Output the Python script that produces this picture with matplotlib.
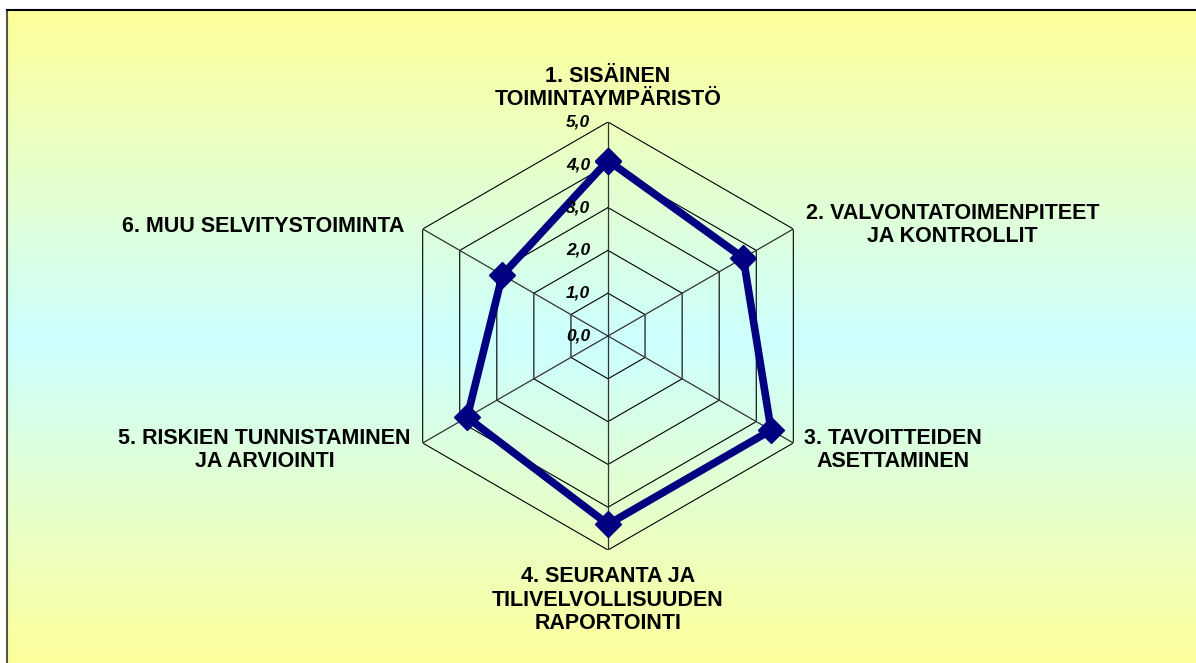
import numpy as np
import matplotlib
matplotlib.use("Agg")
import matplotlib.pyplot as plt
from matplotlib.colors import LinearSegmentedColormap

plt.rcParams["font.family"] = ["Liberation Sans", "DejaVu Sans"]

categories = [
    "1. SISÄINEN\nTOIMINTAYMPÄRISTÖ",
    "2. VALVONTATOIMENPITEET\nJA KONTROLLIT",
    "3. TAVOITTEIDEN\nASETTAMINEN",
    "4. SEURANTA JA\nTILIVELVOLLISUUDEN\nRAPORTOINTI",
    "5. RISKIEN TUNNISTAMINEN\nJA ARVIOINTI",
    "6. MUU SELVITYSTOIMINTA",
]
values = [4.1, 3.65, 4.4, 4.4, 3.8, 2.85]
levels = [0, 1, 2, 3, 4, 5]
level_labels = ["0,0", "1,0", "2,0", "3,0", "4,0", "5,0"]

# label offsets from the outer vertex, in pixels
label_offsets = [(0, 34), (159, 4), (100, -7), (0, -50), (-158, -7), (-159, 3)]

W, H = 1196, 663
fig = plt.figure(figsize=(W / 100, H / 100), dpi=100)
fig.patch.set_facecolor("white")

# gradient background with border on top/left (runs off the right/bottom edge)
bg = fig.add_axes([7 / W, -10 / H, 1 + 10 / W, (H) / H])
cmap = LinearSegmentedColormap.from_list(
    "bg", ["#FFFF99", "#CCFFFF", "#FFFF99"])
grad = np.linspace(0, 1, 256).reshape(-1, 1)
bg.imshow(grad, aspect="auto", cmap=cmap, extent=[0, 1, 0, 1], origin="upper")
bg.set_xticks([])
bg.set_yticks([])
for side in ["right", "bottom"]:
    bg.spines[side].set_visible(False)
bg.spines["top"].set_color("black")
bg.spines["top"].set_linewidth(1.5)
bg.spines["left"].set_color("#555544")
bg.spines["left"].set_linewidth(1.5)

# radar
cx, cy, R = 608, 336, 214
ax = fig.add_axes([(cx - R) / W, (H - cy - R) / H, 2 * R / W, 2 * R / H],
                  projection="polar")
ax.set_facecolor("none")
ax.set_theta_offset(np.pi / 2)
ax.set_theta_direction(-1)
ax.set_ylim(0, 5)
ax.grid(False)
ax.set_xticks([])
ax.set_yticks([])
ax.spines["polar"].set_visible(False)

n = len(categories)
angles = np.arange(n) * 2 * np.pi / n
closed = np.append(angles, angles[0])

for lv in levels[1:]:
    ax.plot(closed, [lv] * (n + 1), color="black", lw=0.8, zorder=1)
for a in angles:
    ax.plot([a, a], [0, 5], color="#333333", lw=0.9, zorder=1)

ax.plot(closed, values + values[:1], color="#000080", lw=5.5, marker="D",
        markersize=13, markeredgecolor="#000080", zorder=3, clip_on=False)

for lv, txt in zip(levels, level_labels):
    ax.annotate(txt, xy=(0, lv), xytext=(-18, 0), textcoords="offset pixels",
                ha="right", va="center", fontsize=12.5, fontweight="bold",
                fontstyle="italic", zorder=4, annotation_clip=False)

for a, lab, off in zip(angles, categories, label_offsets):
    ax.annotate(lab, xy=(a, 5), xytext=off, textcoords="offset pixels",
                ha="center", va="center", fontsize=15.5, fontweight="bold",
                linespacing=1.15, annotation_clip=False)

fig.savefig("out.png", dpi=100)
